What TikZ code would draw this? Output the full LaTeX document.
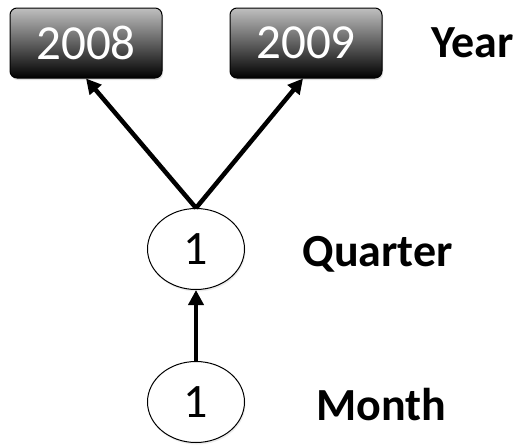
\documentclass[tikz,border=0pt]{standalone}
\usepackage{fontspec}
\setmainfont{Carlito}
\usetikzlibrary{arrows.meta,calc,shapes.geometric,shadows}
\begin{document}
\begin{tikzpicture}[x=1pt,y=-1pt,
  yearbox/.style={draw=black,line width=1pt,rounded corners=7pt,
    top color=black!25,middle color=black!62,bottom color=black,
    minimum width=152pt,minimum height=70pt,inner sep=0pt,
    drop shadow={opacity=0.25,shadow xshift=1pt,shadow yshift=-2pt},
    text=white,font=\fontsize{49}{49}\selectfont},
  level/.style={draw=black,line width=1pt,ellipse,fill=white,
    minimum width=97pt,minimum height=81pt,inner sep=0pt,
    drop shadow={opacity=0.15,shadow xshift=1pt,shadow yshift=-2pt},
    font=\fontsize{48}{48}\selectfont},
  tag/.style={font=\bfseries\fontsize{46}{46}\selectfont,anchor=west},
  link/.style={line width=4.5pt,-{Triangle[length=15pt,width=15pt]}}]
\useasboundingbox (0,0) rectangle (523,445);

\node[yearbox] (y8) at (86,43) {2008};
\node[yearbox] (y9) at (306,43) {2009};
\node[level] (q) at (196,249) {1};
\node[level] (m) at (196,402) {1};

\node[tag] (ty) at (428,43) {Year};
\node[tag] (tq) at (299,254) {Quarter};
\node[tag] (tm) at (313,405) {Month};

\draw[link] (q.north) -- (y8.south);
\draw[link] (q.north) -- ($(y9.south)+(-3,0)$);
\draw[link] (m.north) -- (q.south);
\end{tikzpicture}
\end{document}
